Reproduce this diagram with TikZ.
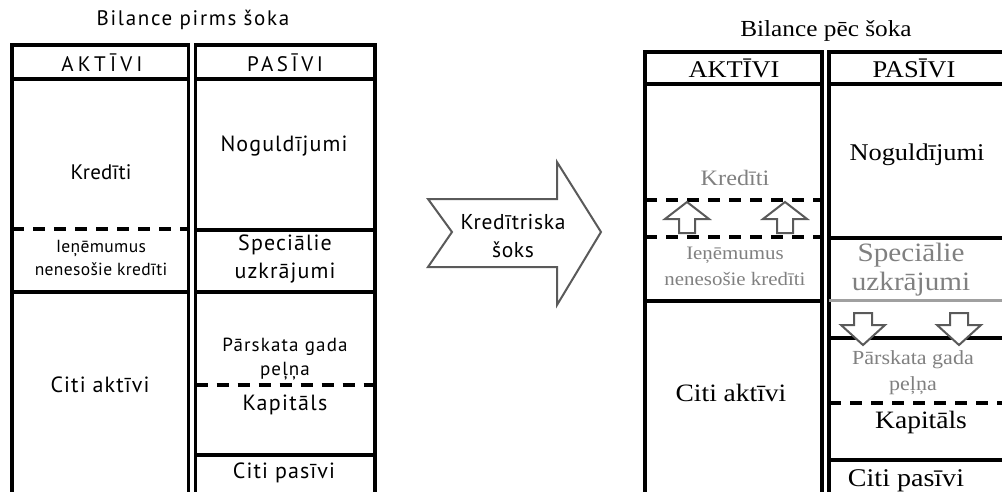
\documentclass[tikz,border=0pt]{standalone}
\usepackage{fontspec}
\setmainfont{Liberation Serif}
\newfontfamily\lsans{PT Sans}
\newfontfamily\rserif[FakeStretch=1.1]{Liberation Serif}
\newcommand{\lsf}[2]{\lsans\addfontfeature{LetterSpace=#2}\fontsize{#1pt}{\dimexpr #1pt*13/10\relax}\selectfont}
\definecolor{arrowgray}{HTML}{5A5A5A}
\definecolor{txtgray}{HTML}{808080}
\definecolor{linegray}{HTML}{A0A0A0}
\begin{document}
\begin{tikzpicture}[x=1pt,y=-1pt,
  bline/.style={line width=3.5pt,black},
  dline/.style={line width=3.5pt,black,dash pattern=on 12pt off 9pt},
  gline/.style={line width=3pt,linegray},
  shockarrow/.style={line width=2pt,arrowgray,fill=white,line join=miter},
  smallarrow/.style={line width=2pt,arrowgray,fill=white,line join=miter},
  ls/.style={inner sep=0pt,align=center},
  rs/.style={inner sep=0pt,align=center,font=\rserif\fontsize{24}{27}\selectfont},
  rsm/.style={inner sep=0pt,align=center,font=\rserif\fontsize{19.5}{26}\selectfont,text=txtgray},
]
\useasboundingbox (0,0) rectangle (1002,491);
\clip (0,0) rectangle (1002,491);

% ---------- Left balance ----------
\node[ls,font=\lsf{21}{8}] (t1) at (193,20) {Bilance pirms šoka};
\draw[bline] (12,45) rectangle (188.5,530);
\draw[bline] (195.5,45) rectangle (375,530);
\draw[bline] (12,79) -- (188.5,79);
\draw[bline] (195.5,79) -- (375,79);
\draw[dline] (12,229) -- (188.5,229);
\draw[bline] (12,292) -- (188.5,292);
\draw[bline] (195.5,230) -- (375,230);
\draw[bline] (195.5,292) -- (375,292);
\draw[dline] (195.5,385) -- (375,385);
\draw[bline] (195.5,455) -- (375,455);

\node[ls,font=\lsf{21}{20}] (la) at (102,63) {AKTĪVI};
\node[ls,font=\lsf{21}{17}] (lp) at (285,63) {PASĪVI};
\node[ls,font=\lsf{21}{1}] (lk) at (101,172) {Kredīti};
\node[ls,font=\lsf{17.5}{2}] (li) at (101,258) {Ieņēmumus\\nenesošie kredīti};
\node[ls,font=\lsf{22}{5}] (lc) at (100,385) {Citi aktīvi};
\node[ls,font=\lsf{22}{5}] (ln) at (284,146) {Noguldījumi};
\node[ls,font=\lsf{22}{5}] (lsp) at (285,259) {Speciālie\\uzkrājumi};
\node[ls,font=\lsf{19}{6}] (lpg) at (285,359) {Pārskata gada\\peļņa};
\node[ls,font=\lsf{22}{6}] (lkap) at (285,405) {Kapitāls};
\node[ls,font=\lsf{22}{5}] (lcp) at (284,473) {Citi pasīvi};

% ---------- Shock arrow ----------
\draw[shockarrow] (428,199) -- (557,199) -- (557,162) -- (601,232) -- (557,305)
  -- (557,267) -- (428,267) -- (452,232) -- cycle;
\node[ls,font=\lsf{21.5}{3}] (sh) at (513,236) {Kredītriska\\šoks};

% ---------- Right balance ----------
\node[rs,font=\rserif\fontsize{23}{26}\selectfont] (t2) at (826,31) {Bilance pēc šoka};
\draw[bline] (645,52) rectangle (822,530);
\draw[bline] (829,52) rectangle (1008,530);
\draw[bline] (645,84) -- (822,84);
\draw[bline] (829,84) -- (1008,84);
\draw[dline] (645,200) -- (822,200);
\draw[dline] (645,237) -- (822,237);
\draw[bline] (645,301) -- (822,301);
\draw[bline] (829,238) -- (1008,238);
\draw[gline] (829,300) -- (1008,300);
\draw[bline] (829,338) -- (1008,338);
\draw[dline] (829,403) -- (1008,403);
\draw[bline] (829,460) -- (1008,460);

\node[rs] (ra) at (734,68) {AKTĪVI};
\node[rs] (rp) at (914,68) {PASĪVI};
\node[rs,text=txtgray,font=\rserif\fontsize{22}{26}\selectfont] (rk) at (735,178) {Kredīti};
\node[rsm,font=\rserif\fontsize{19}{26}\selectfont] (ri) at (735,266) {Ieņēmumus\\nenesošie kredīti};
\node[rs,font=\rserif\fontsize{25}{28}\selectfont] (rc) at (731,393) {Citi aktīvi};
\node[rs] (rn) at (917,155) {Noguldījumi};
\node[rs,text=txtgray,font=\rserif\fontsize{26.5}{29}\selectfont] (rsp) at (911,270) {Speciālie\\uzkrājumi};
\node[rsm,font=\rserif\fontsize{20}{26}\selectfont] (rpg) at (913,373) {Pārskata gada\\peļņa};
\node[rs,font=\rserif\fontsize{25}{28}\selectfont] (rkap) at (921,422) {Kapitāls};
\node[rs,font=\rserif\fontsize{25.5}{28}\selectfont] (rcp) at (906,481) {Citi pasīvi};

% up arrows
\foreach \cx in {687,785}{
  \draw[smallarrow] (\cx,202) -- (\cx+22,219) -- (\cx+8,219) -- (\cx+8,233)
    -- (\cx-8,233) -- (\cx-8,219) -- (\cx-22,219) -- cycle;
}
% down arrows
\foreach \cx in {863,959}{
  \draw[smallarrow] (\cx,345) -- (\cx+22,325) -- (\cx+9,325) -- (\cx+9,313)
    -- (\cx-9,313) -- (\cx-9,325) -- (\cx-22,325) -- cycle;
}
\end{tikzpicture}
\end{document}
